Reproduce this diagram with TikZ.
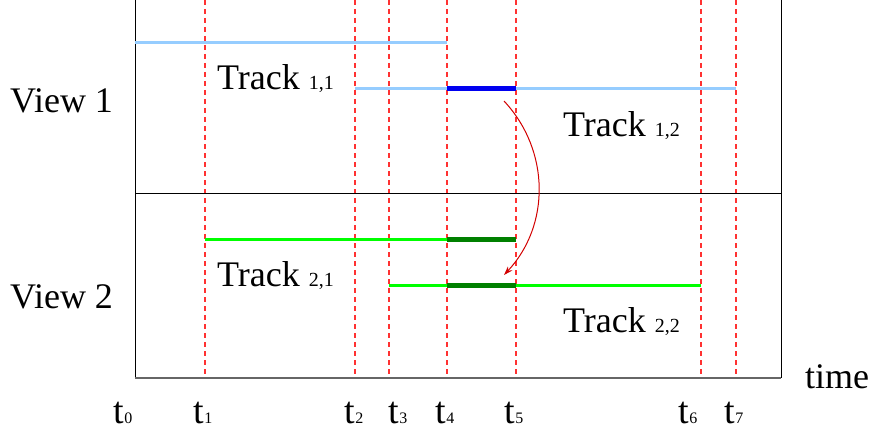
\documentclass[tikz,border=0pt]{standalone}
\usepackage{fontspec}
\setmainfont{Liberation Serif}
\usetikzlibrary{arrows.meta}
\newcommand\smalltxt[1]{{\fontsize{20}{24}\selectfont #1}}
\newcommand\tlab[1]{{\fontsize{38}{42}\selectfont t}{\fontsize{16}{19}\selectfont #1}}
\begin{document}
\begin{tikzpicture}[x=1pt,y=-1pt,
  lbl/.style={font=\fontsize{36}{40}\selectfont, inner sep=0pt, anchor=base west},
  tl/.style={inner sep=0pt, anchor=base},
  guide/.style={draw={rgb,255:red,255;green,50;blue,50}, line width=1.1pt, dash pattern=on 5pt off 4pt},
  lightblue/.style={draw={rgb,255:red,150;green,205;blue,255}, line width=3pt},
  darkblue/.style={draw={rgb,255:red,0;green,0;blue,240}, line width=5pt},
  lightgreen/.style={draw={rgb,255:red,0;green,255;blue,0}, line width=3pt},
  darkgreen/.style={draw={rgb,255:red,0;green,128;blue,0}, line width=5pt},
  frame/.style={draw=black, line width=1pt},
  link/.style={draw={rgb,255:red,210;green,0;blue,0}, line width=1pt, -{Stealth[length=9pt,width=6pt]}}
]
\useasboundingbox (0,0) rectangle (872,433);

% frame
\coordinate (tl) at (135,0);
\coordinate (bl) at (135,378);
\coordinate (tr) at (781,0);
\coordinate (br) at (781,378);
\coordinate (ml) at (135,193);
\coordinate (mr) at (781,193);

% guides
\foreach \n/\x in {1/205,2/355,3/389,4/447,5/516,6/701,7/736}{
  \coordinate (g\n top) at (\x,0);
  \coordinate (g\n bot) at (\x,377);
  \draw[guide] (g\n top) -- (g\n bot);
}

\draw[frame] (tl) -- (bl);
\draw[frame] (tr) -- (br);
\draw[frame] (ml) -- (mr);
\draw[draw=black!60, line width=2pt] (bl) -- (br);

% track endpoints
\coordinate (a0) at (135,43);  \coordinate (a1) at (447,43);
\coordinate (b0) at (355,89);  \coordinate (b1) at (447,89);
\coordinate (b2) at (516,89);  \coordinate (b3) at (736,89);
\coordinate (c0) at (205,239); \coordinate (c1) at (447,239); \coordinate (c2) at (516,239);
\coordinate (d0) at (389,285); \coordinate (d1) at (447,285);
\coordinate (d2) at (516,285); \coordinate (d3) at (701,285);

\draw[lightblue] (a0) -- (a1);
\draw[lightblue] (b0) -- (b3);
\draw[darkblue] (b1) -- (b2);
\draw[lightgreen] (c0) -- (c1);
\draw[darkgreen] (c1) -- (c2);
\draw[lightgreen] (d0) -- (d3);
\draw[darkgreen] (d1) -- (d2);

% arrow
\coordinate (arrS) at (504,101);
\coordinate (arrE) at (504,275);
\draw[link] (arrS) to[bend left=43] (arrE);

% labels
\node[lbl] (v1) at (10,113) {View 1};
\node[lbl] (v2) at (10,308) {View 2};
\node[lbl] (tr11) at (217,90) {Track \smalltxt{1,1}};
\node[lbl] (tr12) at (563,136) {Track \smalltxt{1,2}};
\node[lbl] (tr21) at (217,286) {Track \smalltxt{2,1}};
\node[lbl] (tr22) at (563,332) {Track \smalltxt{2,2}};
\node[lbl] (time) at (805,388) {time};

\node[tl] (t0) at (123,423) {\tlab{0}};
\node[tl] (t1) at (203,423) {\tlab{1}};
\node[tl] (t2) at (354,423) {\tlab{2}};
\node[tl] (t3) at (398,423) {\tlab{3}};
\node[tl] (t4) at (445,423) {\tlab{4}};
\node[tl] (t5) at (514,423) {\tlab{5}};
\node[tl] (t6) at (688,423) {\tlab{6}};
\node[tl] (t7) at (734,423) {\tlab{7}};
\end{tikzpicture}
\end{document}
